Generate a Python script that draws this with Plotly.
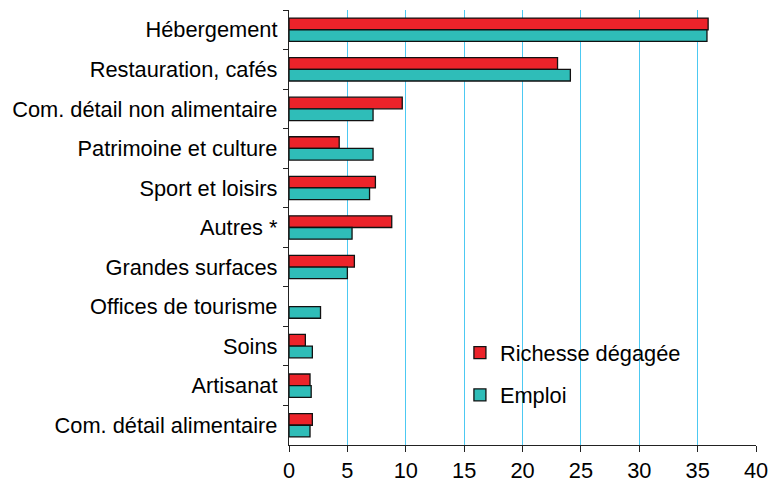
import plotly.graph_objects as go

categories = [
    "Hébergement",
    "Restauration, cafés",
    "Com. détail non alimentaire",
    "Patrimoine et culture",
    "Sport et loisirs",
    "Autres *",
    "Grandes surfaces",
    "Offices de tourisme",
    "Soins",
    "Artisanat",
    "Com. détail alimentaire",
]
richesse = [35.9, 23.0, 9.7, 4.3, 7.4, 8.8, 5.6, None, 1.4, 1.8, 2.0]
emploi = [35.8, 24.1, 7.2, 7.2, 6.9, 5.4, 5.0, 2.7, 2.0, 1.9, 1.8]
x_ticks = [0, 5, 10, 15, 20, 25, 30, 35, 40]

FONT = "Liberation Sans, Arial, sans-serif"
FS = 21.8

fig = go.Figure()
fig.add_trace(go.Bar(
    y=categories, x=richesse, orientation="h", name="Richesse dégagée",
    legendgroup="a",
    marker=dict(color="#EC232A", line=dict(color="#111111", width=1.3)),
))
fig.add_trace(go.Bar(
    y=categories, x=emploi, orientation="h", name="Emploi",
    legendgroup="b",
    marker=dict(color="#2FBDB8", line=dict(color="#111111", width=1.3)),
))

# page body has an 8px default margin, so the figure is sized/offset for it
fig.update_layout(
    width=776, height=481,
    margin=dict(l=281, r=28, t=2, b=44),
    paper_bgcolor="white", plot_bgcolor="white",
    font=dict(family=FONT, size=FS, color="#000000"),
    barmode="group", bargap=0.41, bargroupgap=0,
    showlegend=True,
    legend=dict(
        x=0.366, y=0.26, xanchor="left", yanchor="top",
        bgcolor="rgba(0,0,0,0)", borderwidth=0,
        traceorder="grouped", tracegroupgap=11,
        itemwidth=30,
        font=dict(family=FONT, size=FS, color="#000000"),
    ),
    xaxis=dict(
        range=[0, 40], tickvals=x_ticks, automargin=False,
        showgrid=True, gridcolor="#4CC9F2", gridwidth=1.3,
        zeroline=False,
        showline=True, linecolor="#222222", linewidth=1.3,
        ticks="outside", ticklen=6, tickcolor="#222222", tickwidth=1.3,
        tickfont=dict(family=FONT, size=FS, color="#000000"),
        fixedrange=True,
    ),
    yaxis=dict(
        autorange="reversed", type="category", automargin=False,
        showgrid=False, zeroline=False,
        showline=True, linecolor="#222222", linewidth=1.3,
        ticks="outside", ticklen=5, tickcolor="#222222", tickwidth=1.3,
        tickson="boundaries",
        ticklabelstandoff=6,
        tickfont=dict(family=FONT, size=FS, color="#000000"),
        fixedrange=True,
    ),
)

fig.write_html("out.html")
